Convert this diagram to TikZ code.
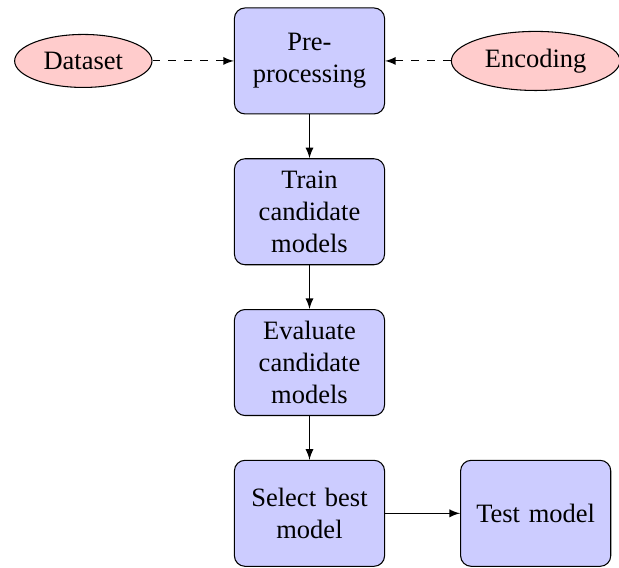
\documentclass[tikz,border=0pt]{standalone}
\usepackage{fontspec}
\setmainfont{Liberation Serif}
\usetikzlibrary{shapes.geometric,arrows}
\begin{document}
\begin{tikzpicture}[
  node distance=2cm, auto,
  block/.style={rectangle, draw, fill=blue!20, text width=5em, align=center,
    rounded corners, minimum height=4em},
  cloud/.style={ellipse, draw, fill=red!20, minimum height=2em},
  line/.style={draw, -latex}
]
\useasboundingbox (-116.8pt,23pt) rectangle (116.8pt,-191.3pt);
\node[block] (init) at (0,0) {Pre-\\processing};
\node[block, below of=init] (train) {Train candidate models};
\node[block, below of=train] (eval) {Evaluate candidate models};
\node[block, below of=eval] (select) {Select best model};
\node[block, right of=select, node distance=3cm] (test) {Test model};
\node[cloud, left of=init, node distance=3cm] (data) {Dataset};
\node[cloud, right of=init, node distance=3cm] (enc) {Encoding};
\path[line] (init) -- (train);
\path[line] (train) -- (eval);
\path[line] (eval) -- (select);
\path[line] (select) -- (test);
\path[line, dashed] (data) -- (init);
\path[line, dashed] (enc) -- (init);
\end{tikzpicture}
\end{document}
